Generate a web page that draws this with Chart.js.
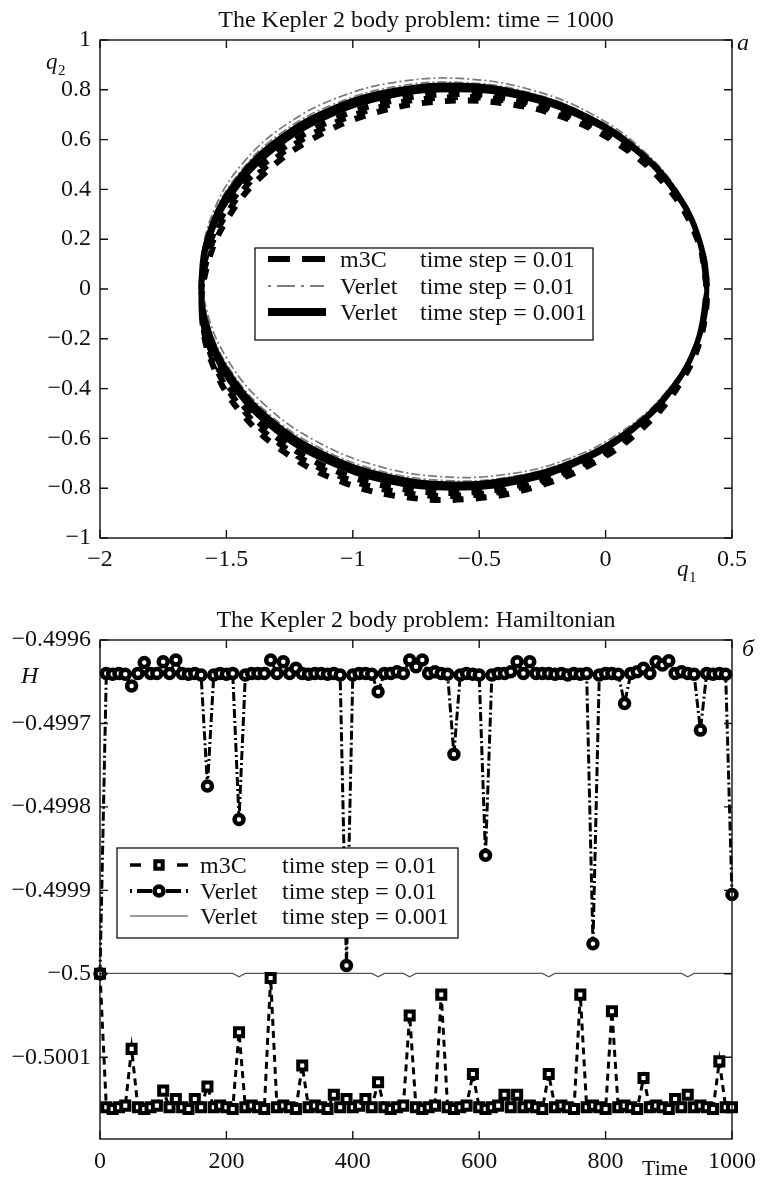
<!DOCTYPE html>
<html><head><meta charset="utf-8">
<script src="https://cdn.jsdelivr.net/npm/chart.js@4.4.1/dist/chart.umd.min.js"></script>
<style>html,body{margin:0;padding:0;background:#fff;}canvas{display:block;}</style>
</head><body>
<canvas id="c1" width="761" height="588"></canvas>
<canvas id="c2" width="761" height="589"></canvas>
<script>
// ---------- tick labels ----------
const TOP_X_TICKS = [-2, -1.5, -1, -0.5, 0, 0.5];
const TOP_Y_TICKS = [-1, -0.8, -0.6, -0.4, -0.2, 0, 0.2, 0.4, 0.6, 0.8, 1];
const BOT_X_TICKS = [0, 200, 400, 600, 800, 1000];
const BOT_Y_TICKS = [-0.4996, -0.4997, -0.4998, -0.4999, -0.5, -0.5001];

// ---------- legend texts ----------
const SERIES_NAMES = ['m3C', 'Verlet', 'Verlet'];
const SERIES_STEPS = ['time step = 0.01', 'time step = 0.01', 'time step = 0.001'];

// ---------- panel a: orbits (q1, q2) ----------
const m3cQ1 = [0.400,0.360,0.254,0.090,-0.121,-0.364,-0.624,-0.882,-1.120,-1.323,-1.477,-1.572,-1.599,-1.559,-1.453,-1.289,-1.079,-0.835,-0.576,-0.318,-0.079,0.124,0.278,0.372,
  0.400,0.355,0.246,0.079,-0.135,-0.379,-0.639,-0.897,-1.133,-1.334,-1.484,-1.574,-1.598,-1.554,-1.444,-1.277,-1.064,-0.819,-0.559,-0.302,-0.065,0.135,0.286,0.376,
  0.399,0.349,0.235,0.064,-0.152,-0.398,-0.658,-0.915,-1.149,-1.346,-1.492,-1.577,-1.596,-1.546,-1.432,-1.261,-1.045,-0.799,-0.538,-0.282,-0.048,0.149,0.295,0.381,0.399];
const m3cQ2 = [0.012,0.218,0.408,0.569,0.690,0.762,0.782,0.747,0.660,0.527,0.356,0.160,-0.048,-0.254,-0.444,-0.605,-0.726,-0.798,-0.818,-0.783,-0.696,-0.562,-0.392,-0.196,
  0.020,0.225,0.413,0.571,0.687,0.755,0.769,0.729,0.637,0.500,0.326,0.128,-0.080,-0.285,-0.473,-0.631,-0.747,-0.815,-0.829,-0.789,-0.697,-0.560,-0.386,-0.188,
  0.030,0.234,0.419,0.572,0.684,0.745,0.753,0.707,0.609,0.467,0.289,0.089,-0.120,-0.324,-0.509,-0.662,-0.774,-0.835,-0.843,-0.796,-0.699,-0.556,-0.379,-0.179,0.030];

const verletQ1 = [0.400,0.376,0.286,0.135,-0.065,-0.302,-0.559,-0.819,-1.064,-1.277,-1.444,-1.554,-1.598,-1.574,-1.484,-1.334,-1.133,-0.897,-0.639,-0.379,-0.135,0.079,0.246,0.355,
  0.399,0.381,0.295,0.149,-0.048,-0.282,-0.538,-0.799,-1.045,-1.261,-1.432,-1.546,-1.596,-1.577,-1.492,-1.346,-1.149,-0.915,-0.658,-0.398,-0.152,0.064,0.235,0.349,0.399];
const verletQ2 = [-0.020,0.188,0.386,0.560,0.697,0.789,0.829,0.815,0.747,0.631,0.473,0.285,0.080,-0.128,-0.326,-0.500,-0.637,-0.729,-0.769,-0.755,-0.687,-0.571,-0.413,-0.225,
  -0.030,0.179,0.379,0.556,0.699,0.796,0.843,0.835,0.774,0.662,0.509,0.324,0.120,-0.089,-0.289,-0.467,-0.609,-0.707,-0.753,-0.745,-0.684,-0.572,-0.419,-0.234,-0.030];

const fineQ1 = [0.400,0.366,0.266,0.107,-0.100,-0.341,-0.600,-0.859,-1.100,-1.307,-1.466,-1.566,-1.600,-1.566,-1.466,-1.307,-1.100,-0.859,-0.600,-0.341,-0.100,0.107,0.266,0.366,
  0.400,0.369,0.272,0.116,-0.090,-0.330,-0.588,-0.847,-1.090,-1.298,-1.460,-1.563,-1.600,-1.569,-1.472,-1.315,-1.110,-0.871,-0.612,-0.353,-0.111,0.099,0.260,0.363,
  0.400,0.372,0.278,0.124,-0.079,-0.318,-0.576,-0.835,-1.079,-1.289,-1.453,-1.559,-1.599,-1.572,-1.477,-1.323,-1.120,-0.882,-0.624,-0.364,-0.121,0.090,0.254,0.360,0.400];
const fineQ2 = [0.000,0.207,0.400,0.566,0.693,0.773,0.800,0.773,0.693,0.566,0.400,0.207,0.000,-0.207,-0.400,-0.566,-0.693,-0.773,-0.800,-0.773,-0.693,-0.566,-0.400,-0.207,
  -0.006,0.202,0.396,0.564,0.695,0.778,0.809,0.786,0.710,0.586,0.422,0.231,0.024,-0.184,-0.378,-0.547,-0.677,-0.760,-0.791,-0.768,-0.692,-0.568,-0.404,-0.213,
  -0.012,0.196,0.392,0.562,0.696,0.783,0.818,0.798,0.726,0.605,0.444,0.254,0.048,-0.160,-0.356,-0.527,-0.660,-0.747,-0.782,-0.762,-0.690,-0.569,-0.408,-0.218,-0.012];

// ---------- panel б: Hamiltonian vs time ----------
const timeValues = [0,10,20,30,40,50,60,70,80,90,
  100,110,120,130,140,150,160,170,180,190,
  200,210,220,230,240,250,260,270,280,290,
  300,310,320,330,340,350,360,370,380,390,
  400,410,420,430,440,450,460,470,480,490,
  500,510,520,530,540,550,560,570,580,590,
  600,610,620,630,640,650,660,670,680,690,
  700,710,720,730,740,750,760,770,780,790,
  800,810,820,830,840,850,860,870,880,890,
  900,910,920,930,940,950,960,970,980,990,1000];

const m3cH = [-0.50000,-0.50016,-0.500162,-0.50016,-0.500158,-0.50009,-0.50016,-0.500162,-0.50016,-0.500158,
  -0.50014,-0.50016,-0.50015,-0.50016,-0.500162,-0.50015,-0.50016,-0.500135,-0.50016,-0.500158,
  -0.50016,-0.500162,-0.50007,-0.50016,-0.500158,-0.50016,-0.500162,-0.500005,-0.50016,-0.500158,
  -0.50016,-0.500162,-0.50011,-0.50016,-0.500158,-0.50016,-0.500162,-0.500145,-0.50016,-0.50015,
  -0.50016,-0.500158,-0.50015,-0.50016,-0.50013,-0.50016,-0.500162,-0.50016,-0.500158,-0.50005,
  -0.50016,-0.500162,-0.50016,-0.500158,-0.500025,-0.50016,-0.500162,-0.50016,-0.500158,-0.50012,
  -0.50016,-0.500162,-0.50016,-0.500158,-0.500145,-0.50016,-0.500145,-0.50016,-0.500158,-0.50016,
  -0.500162,-0.50012,-0.50016,-0.500158,-0.50016,-0.500162,-0.500025,-0.50016,-0.500158,-0.50016,
  -0.500162,-0.500045,-0.50016,-0.500158,-0.50016,-0.500162,-0.500125,-0.50016,-0.500158,-0.50016,
  -0.500162,-0.50015,-0.50016,-0.500145,-0.50016,-0.500158,-0.50016,-0.500162,-0.500105,-0.50016,-0.50016];

const verletH = [-0.50000,-0.49964,-0.499641,-0.49964,-0.499641,-0.499655,-0.49964,-0.499627,-0.49964,-0.49964,
  -0.499626,-0.49964,-0.499624,-0.49964,-0.499641,-0.49964,-0.499642,-0.499775,-0.499642,-0.49964,
  -0.499641,-0.49964,-0.499815,-0.499642,-0.49964,-0.49964,-0.49964,-0.499624,-0.49964,-0.499626,
  -0.49964,-0.499634,-0.49964,-0.499641,-0.49964,-0.49964,-0.499641,-0.49964,-0.499642,-0.49999,
  -0.499642,-0.49964,-0.49964,-0.499641,-0.499662,-0.49964,-0.49964,-0.499638,-0.49964,-0.499624,
  -0.499632,-0.499624,-0.49964,-0.499638,-0.49964,-0.499641,-0.499737,-0.499642,-0.49964,-0.499641,
  -0.499642,-0.499858,-0.499642,-0.49964,-0.49964,-0.499638,-0.499626,-0.49964,-0.499626,-0.49964,
  -0.49964,-0.49964,-0.499641,-0.49964,-0.499642,-0.49964,-0.499641,-0.49964,-0.499964,-0.499642,
  -0.49964,-0.49964,-0.499641,-0.499676,-0.49964,-0.499638,-0.499634,-0.49964,-0.499626,-0.49963,
  -0.499625,-0.49964,-0.499638,-0.49964,-0.499641,-0.499708,-0.49964,-0.499641,-0.49964,-0.499641,-0.499905];

const verletFineH = [-0.5000000,-0.4999995,-0.4999995,-0.4999995,-0.4999995,-0.4999995,-0.4999995,-0.4999995,-0.4999995,-0.4999995,
  -0.4999995,-0.4999995,-0.4999995,-0.4999995,-0.4999995,-0.4999995,-0.4999995,-0.4999995,-0.4999995,-0.4999995,
  -0.4999995,-0.4999995,-0.5000035,-0.4999995,-0.4999995,-0.4999995,-0.4999995,-0.4999995,-0.4999995,-0.4999995,
  -0.4999995,-0.4999995,-0.4999995,-0.4999995,-0.4999995,-0.4999995,-0.4999995,-0.4999995,-0.4999995,-0.4999995,
  -0.4999995,-0.4999995,-0.4999995,-0.4999995,-0.5000035,-0.4999995,-0.4999995,-0.4999995,-0.4999995,-0.5000035,
  -0.4999995,-0.4999995,-0.4999995,-0.4999995,-0.4999995,-0.4999995,-0.4999995,-0.4999995,-0.4999995,-0.4999995,
  -0.4999995,-0.4999995,-0.4999995,-0.4999995,-0.4999995,-0.4999995,-0.4999995,-0.4999995,-0.4999995,-0.4999995,
  -0.4999995,-0.5000035,-0.4999995,-0.4999995,-0.4999995,-0.4999995,-0.4999995,-0.4999995,-0.4999995,-0.4999995,
  -0.4999995,-0.4999995,-0.4999995,-0.4999995,-0.4999995,-0.4999995,-0.4999995,-0.4999995,-0.4999995,-0.4999995,
  -0.4999995,-0.4999995,-0.4999995,-0.5000035,-0.4999995,-0.4999995,-0.4999995,-0.4999995,-0.4999995,-0.4999995,-0.4999995];

// ---------- rendering ----------
const FONT = "'Liberation Serif', 'Times New Roman', serif";
Chart.defaults.font.family = FONT;
Chart.defaults.font.size = 24;
Chart.defaults.color = '#111';

const fmt = v => String(+Number(v).toFixed(4)).replace('-', '\u2212');
const pts = (xs, ys) => xs.map((x, i) => ({ x, y: ys[i] }));

function makeScales(xT, yT, xMin, xMax, yMin, yMax, xH, xPad) {
  return {
    x: {
      type: 'linear', min: xMin, max: xMax,
      grid: { display: false, drawTicks: false }, border: { display: false },
      afterBuildTicks: s => { s.ticks = xT.map(v => ({ value: v })); },
      afterFit: s => { s.height = xH; s.paddingLeft = 0; s.paddingRight = 0; },
      ticks: { padding: xPad, maxRotation: 0, autoSkip: false, callback: v => fmt(v) }
    },
    y: {
      type: 'linear', min: yMin, max: yMax,
      grid: { display: false, drawTicks: false }, border: { display: false },
      afterBuildTicks: s => { s.ticks = yT.map(v => ({ value: v })); },
      afterFit: s => { s.width = 100; s.paddingTop = 0; s.paddingBottom = 0; },
      ticks: { padding: 9, autoSkip: false, callback: v => fmt(v) }
    }
  };
}

const deco = {
  id: 'deco',
  afterDraw(chart, args, o) {
    const ctx = chart.ctx, a = chart.chartArea, xs = chart.scales.x, ys = chart.scales.y;
    ctx.save();
    ctx.strokeStyle = '#111';
    ctx.lineWidth = 1.4;
    ctx.setLineDash([]);
    ctx.strokeRect(a.left, a.top, a.right - a.left, a.bottom - a.top);
    ctx.beginPath();
    xs.ticks.forEach(t => {
      const p = xs.getPixelForValue(t.value);
      ctx.moveTo(p, a.bottom); ctx.lineTo(p, a.bottom - 8);
      ctx.moveTo(p, a.top); ctx.lineTo(p, a.top + 8);
    });
    ys.ticks.forEach(t => {
      const p = ys.getPixelForValue(t.value);
      ctx.moveTo(a.left, p); ctx.lineTo(a.left + 8, p);
      ctx.moveTo(a.right, p); ctx.lineTo(a.right - 8, p);
    });
    ctx.stroke();
    ctx.fillStyle = '#111';
    ctx.textBaseline = 'alphabetic';
    o.texts.forEach(t => {
      ctx.font = t.font;
      ctx.textAlign = t.align || 'left';
      ctx.fillText(t.s, t.x, t.y);
    });
    if (o.legend) o.legend(ctx);
    ctx.restore();
  }
};

function box(ctx, x0, y0, x1, y1) {
  ctx.fillStyle = '#fff';
  ctx.fillRect(x0, y0, x1 - x0, y1 - y0);
  ctx.strokeStyle = '#111';
  ctx.lineWidth = 1.3;
  ctx.setLineDash([]);
  ctx.strokeRect(x0, y0, x1 - x0, y1 - y0);
}
function seg(ctx, xa, xb, y, w, col) {
  ctx.beginPath();
  ctx.strokeStyle = col; ctx.lineWidth = w; ctx.lineCap = 'butt';
  ctx.moveTo(xa, y); ctx.lineTo(xb, y); ctx.stroke();
}
function legendTexts(ctx, xName, xStep, rows) {
  ctx.fillStyle = '#111';
  ctx.font = '24px ' + FONT;
  ctx.textAlign = 'left';
  ctx.textBaseline = 'alphabetic';
  rows.forEach((y, i) => {
    ctx.fillText(SERIES_NAMES[i], xName, y + 8);
    ctx.fillText(SERIES_STEPS[i], xStep, y + 8);
  });
}

// ---- panel a ----
new Chart(document.getElementById('c1'), {
  type: 'line',
  data: {
    datasets: [
      { data: pts(fineQ1, fineQ2), borderColor: '#000', borderWidth: 5, pointRadius: 0, tension: 0.4, fill: false, order: 0 },
      { data: pts(verletQ1, verletQ2), borderColor: '#7a7a7a', borderWidth: 1.7, borderDash: [9, 3, 2, 3], pointRadius: 0, tension: 0.4, fill: false, order: 1 },
      { data: pts(m3cQ1, m3cQ2), borderColor: '#000', borderWidth: 6, borderDash: [11, 12], pointRadius: 0, tension: 0.4, fill: false, order: 2 }
    ]
  },
  options: {
    responsive: false, animation: false, events: [],
    layout: { padding: { left: 0, right: 29, top: 40, bottom: 10 } },
    plugins: {
      legend: { display: false }, tooltip: { enabled: false },
      deco: {
        texts: [
          { s: 'The Kepler 2 body problem: time = 1000', x: 416, y: 27, font: '24px ' + FONT, align: 'center' },
          { s: 'q', x: 46, y: 69, font: 'italic 23px ' + FONT },
          { s: '2', x: 58, y: 75, font: '15px ' + FONT },
          { s: 'а', x: 737, y: 50, font: 'italic 24px ' + FONT },
          { s: 'q', x: 677, y: 576, font: 'italic 23px ' + FONT },
          { s: '1', x: 689, y: 582, font: '15px ' + FONT }
        ],
        legend: ctx => {
          box(ctx, 255, 248, 593, 340);
          const r = [259, 286, 312];
          seg(ctx, 268, 290, r[0], 6, '#000');
          seg(ctx, 302, 325, r[0], 6, '#000');
          seg(ctx, 268, 271, r[1], 1.7, '#666');
          seg(ctx, 277, 295, r[1], 1.7, '#666');
          seg(ctx, 301, 304, r[1], 1.7, '#666');
          seg(ctx, 310, 324, r[1], 1.7, '#666');
          seg(ctx, 268, 326, r[2], 8, '#000');
          legendTexts(ctx, 340, 420, r);
        }
      }
    },
    scales: makeScales(TOP_X_TICKS, TOP_Y_TICKS, -2, 0.5, -1, 1, 40, 7)
  },
  plugins: [deco]
});

// ---- panel б ----
new Chart(document.getElementById('c2'), {
  type: 'line',
  data: {
    datasets: [
      { data: pts(timeValues, verletH), borderColor: '#000', borderWidth: 3, borderDash: [9, 3, 2, 3],
        pointStyle: 'circle', pointRadius: 4.5, pointBorderWidth: 4.5, pointBackgroundColor: '#fff', pointBorderColor: '#000',
        tension: 0, fill: false, clip: false, order: 0 },
      { data: pts(timeValues, m3cH), borderColor: '#000', borderWidth: 3, borderDash: [7, 5],
        pointStyle: 'rect', pointRadius: 5.7, pointBorderWidth: 4, pointBackgroundColor: '#fff', pointBorderColor: '#000',
        tension: 0, fill: false, clip: false, order: 1 },
      { data: pts(timeValues, verletFineH), borderColor: '#555', borderWidth: 1.2, pointRadius: 0, tension: 0, fill: false, order: 2 }
    ]
  },
  options: {
    responsive: false, animation: false, events: [],
    layout: { padding: { left: 0, right: 29, top: 52, bottom: 5 } },
    plugins: {
      legend: { display: false }, tooltip: { enabled: false },
      deco: {
        texts: [
          { s: 'The Kepler 2 body problem: Hamiltonian', x: 416, y: 39, font: '24px ' + FONT, align: 'center' },
          { s: 'H', x: 21, y: 95, font: 'italic 24px ' + FONT },
          { s: 'б', x: 742, y: 68, font: 'italic 24px ' + FONT },
          { s: 'Time', x: 642, y: 587, font: '22px ' + FONT }
        ],
        legend: ctx => {
          box(ctx, 117, 260, 458, 350);
          const r = [277, 303, 328];
          seg(ctx, 130, 141, r[0], 3.5, '#000');
          seg(ctx, 177, 188, r[0], 3.5, '#000');
          ctx.fillStyle = '#fff'; ctx.strokeStyle = '#000'; ctx.lineWidth = 4;
          Chart.helpers.drawPoint(ctx, { pointStyle: 'rect', radius: 5.2, borderWidth: 4, rotation: 0 }, 159, r[0]);
          seg(ctx, 130, 132, r[1], 4, '#000');
          seg(ctx, 137, 152, r[1], 4, '#000');
          seg(ctx, 166, 181, r[1], 4, '#000');
          seg(ctx, 186, 188, r[1], 4, '#000');
          ctx.fillStyle = '#fff'; ctx.strokeStyle = '#000'; ctx.lineWidth = 4.5;
          Chart.helpers.drawPoint(ctx, { pointStyle: 'circle', radius: 4.5, borderWidth: 4.5, rotation: 0 }, 159, r[1]);
          seg(ctx, 130, 188, r[2], 1.1, '#333');
          legendTexts(ctx, 200, 282, r);
        }
      }
    },
    scales: makeScales(BOT_X_TICKS, BOT_Y_TICKS, 0, 1000, -0.500198, -0.4996, 33, 8)
  },
  plugins: [deco]
});
</script>
</body></html>
